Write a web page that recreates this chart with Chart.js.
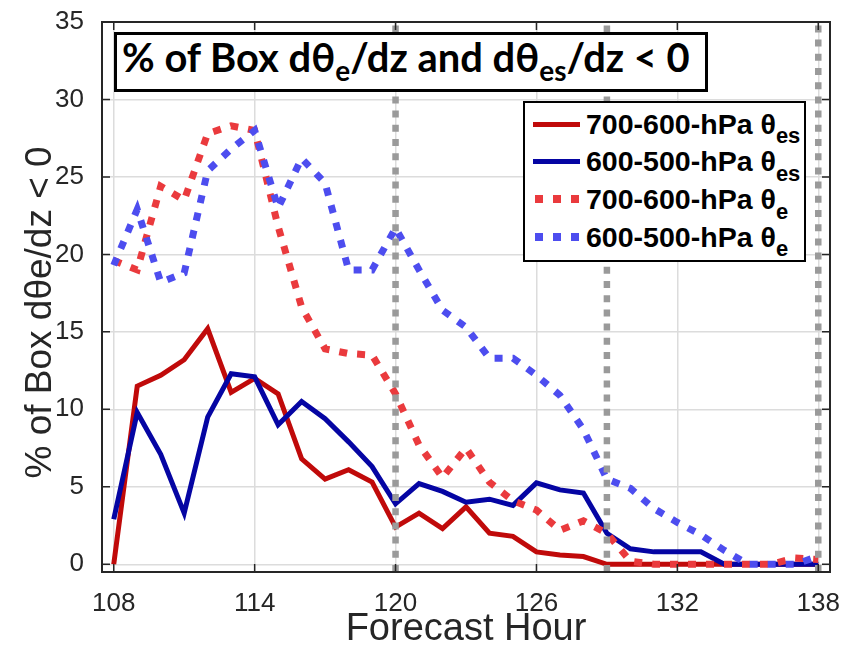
<!DOCTYPE html>
<html><head><meta charset="utf-8"><title>chart</title>
<script src="https://cdn.jsdelivr.net/npm/chart.js@4.4.1/dist/chart.umd.min.js"></script>
<style>
html,body{margin:0;padding:0;background:#fff;overflow:hidden}
#wrap{position:relative;width:846px;height:647px}
#c{position:absolute;left:0;top:0}
#title{position:absolute;left:114px;top:32px;width:594px;height:60px;box-sizing:border-box;border:3px solid #000;background:#fff}
#titleText{position:absolute;left:5px;top:0;white-space:nowrap;font-family:Lato,'Open Sans',sans-serif;font-weight:bold;font-size:40px;line-height:1;color:#000}
.sub{font-size:0.7em;position:relative;top:0.32em}
#legend{position:absolute;left:523px;top:101px;width:283px;height:161px;box-sizing:border-box;border:2px solid #000;background:#fff}
.lt{position:absolute;top:0;white-space:nowrap;font-family:'Liberation Sans',Arial,sans-serif;font-weight:bold;font-size:26px;line-height:1;color:#000}
.lsub{font-size:0.77em;position:relative;top:0.45em}
.bl{display:inline-block;width:0;height:0;vertical-align:baseline}
.ls{position:absolute}
</style></head><body>
<div id="wrap"><canvas id="c" width="846" height="647"></canvas>
<div id="title"><span id="titleText">% of Box dθ<span class="sub">e</span>/dz and dθ<span class="sub">es</span>/dz &lt; 0<span class="bl"></span></span></div>
<div id="legend"></div></div>
<script>
// ---- data ----
const hours = [108,109,110,111,112,113,114,115,116,117,118,119,120,121,122,123,124,125,126,127,128,129,130,131,132,133,134,135,136,137,138];
const r700es = [0,11.5,12.2,13.2,15.2,11.1,12.0,11.0,6.8,5.5,6.1,5.3,2.4,3.3,2.3,3.7,2.0,1.8,0.8,0.6,0.5,0,0,0,0,0,0,0,0,0,0];
const b600es = [2.9,9.8,7.1,3.3,9.5,12.3,12.1,9.0,10.5,9.4,7.9,6.3,3.9,5.2,4.7,4.0,4.2,3.8,5.25,4.8,4.6,2.0,1.0,0.8,0.8,0.8,0,0,0,0,0];
const r700e = [19.6,19.0,24.4,23.5,27.8,28.3,28.0,21.8,16.6,13.9,13.6,13.5,11.0,7.7,5.6,7.5,5.3,4.1,3.5,2.2,2.8,2.0,0.2,0,0,0,0,0,0,0.4,0.3];
const b600e = [19.3,22.9,18.2,18.8,25.4,26.8,28.0,23.0,26.2,24.6,19.0,19.0,21.7,19.0,16.4,15.3,13.3,13.3,12.2,10.9,8.7,5.5,4.9,3.6,2.7,1.9,0.9,0,0,0,0.5];
const refHours = [120,129,138];
const xTicks = [108,114,120,126,132,138];
const yTicks = [0,5,10,15,20,25,30,35];
const seriesLayer = ['700-600-hPa','600-500-hPa','700-600-hPa','600-500-hPa'];
const seriesSub = ['es','es','e','e'];
const seriesValues = [r700es, b600es, r700e, b600e];
const xTitle = 'Forecast Hour';
const yTitle = '% of Box dθe/dz < 0';
const yMin = -0.5, yMax = 35, xMin = 107.5, xMax = 138.5;

// ---- styles ----
const seriesColors = ['#c00a0a','#0505a3','#ea3a3d','#4d4def'];
const seriesDotted = [false,false,true,true];
const FONT = "'Liberation Sans', Arial, sans-serif";
const AX = '#262626';

const datasets = seriesValues.map((vals,i)=>({
  data: hours.map((h,j)=>({x:h, y:vals[j]})),
  borderColor: seriesColors[i],
  borderWidth: seriesDotted[i] ? 7 : 5,
  borderDash: seriesDotted[i] ? [8,10] : [],
  borderCapStyle: 'butt',
  borderJoinStyle: 'miter',
  pointRadius: 0, tension: 0, fill: false,
  order: 5 - i
}));
refHours.forEach(h=>datasets.push({
  data: [{x:h, y:yMin},{x:h, y:yMax}],
  borderColor: '#9a9a9a', borderWidth: 6.5, borderDash: [7,7.2], borderCapStyle:'butt',
  pointRadius: 0, fill: false, order: 0
}));

const framePlugin = {
  id: 'frame',
  afterDraw(chart){
    const {ctx, chartArea:a, scales} = chart;
    const x = scales.x, y = scales.y;
    ctx.save();
    ctx.strokeStyle = AX; ctx.lineWidth = 1.5;
    ctx.beginPath();
    xTicks.forEach(v=>{ const px = x.getPixelForValue(v);
      ctx.moveTo(px, a.bottom); ctx.lineTo(px, a.bottom-8);
      ctx.moveTo(px, a.top); ctx.lineTo(px, a.top+8); });
    yTicks.forEach(v=>{ const py = y.getPixelForValue(v);
      ctx.moveTo(a.left, py); ctx.lineTo(a.left+8, py);
      ctx.moveTo(a.right, py); ctx.lineTo(a.right-8, py); });
    ctx.stroke();
    ctx.lineWidth = 2;
    ctx.strokeRect(a.left, a.top, a.right-a.left, a.bottom-a.top);
    ctx.restore();
  }
};

new Chart(document.getElementById('c'), {
  type: 'line',
  data: { datasets },
  options: {
    responsive: false, animation: false, devicePixelRatio: 1,
    layout: { padding: { top: 22, right: 16, left: 0, bottom: 0 } },
    plugins: { legend: { display: false }, tooltip: { enabled: false } },
    scales: {
      x: {
        type: 'linear', min: xMin, max: xMax,
        afterBuildTicks: s => { s.ticks = xTicks.map(v=>({value:v})); },
        afterFit: s => { s.height = 75; s.paddingLeft = 0; s.paddingRight = 0; },
        grid: { color: '#dcdcdc', lineWidth: 1.5, drawTicks: false },
        border: { display: false },
        ticks: { font: { family: FONT, size: 26 }, color: AX, padding: 16, maxRotation: 0, autoSkip: false },
        title: { display: true, text: xTitle, color: AX, font: { family: FONT, size: 38, lineHeight: 0.9 }, padding: { top: 0, bottom: 0 } }
      },
      y: {
        type: 'linear', min: yMin, max: yMax,
        afterBuildTicks: s => { s.ticks = yTicks.map(v=>({value:v})); },
        afterFit: s => { s.width = 102; s.paddingTop = 0; s.paddingBottom = 0; },
        grid: { color: '#dcdcdc', lineWidth: 1.5, drawTicks: false },
        border: { display: false },
        ticks: { font: { family: FONT, size: 26 }, color: AX, padding: 18 },
        title: { display: true, text: yTitle + '   ', color: AX, font: { family: FONT, size: 37, lineHeight: 1 }, padding: { top: 22, bottom: 0 } }
      }
    }
  },
  plugins: [framePlugin]
});

// ---- overlays: title box and legend (real text) ----
function baselineOf(el){ return el.querySelector('.bl').getBoundingClientRect().top; }
function fitWidth(el, measureEl, target){
  const w = measureEl.getBoundingClientRect().width;
  const fs = parseFloat(getComputedStyle(el).fontSize);
  el.style.fontSize = (fs * target / w) + 'px';
}
function setBaseline(el, targetY){
  const cur = baselineOf(el);
  el.style.top = ((parseFloat(el.style.top)||0) + targetY - cur) + 'px';
}
const tt = document.getElementById('titleText');
fitWidth(tt, tt, 568);
setBaseline(tt, 72);

const legendEl = document.getElementById('legend');
const LX = 525, LY = 103; // inner origin of the legend box
let legendFont = null;
seriesLayer.forEach((layer,i)=>{
  const base = 133.5 + i*37.7;
  const s = document.createElement('div');
  s.className = 'ls';
  if (seriesDotted[i]) {
    s.style.cssText = `left:${535-LX}px;top:${base-9.5-4-LY}px;width:44px;height:8px;background:repeating-linear-gradient(90deg, ${seriesColors[i]} 0 8px, transparent 8px 18px)`;
  } else {
    s.style.cssText = `left:${533-LX}px;top:${base-9.5-2.5-LY}px;width:47px;height:5px;background:${seriesColors[i]}`;
  }
  legendEl.appendChild(s);
  const t = document.createElement('span');
  t.className = 'lt';
  t.style.left = (586-LX) + 'px';
  t.innerHTML = `<span class="m">${layer} θ</span><span class="lsub">${seriesSub[i]}</span><span class="bl"></span>`;
  legendEl.appendChild(t);
  if (legendFont === null) { fitWidth(t, t.querySelector('.m'), 190); legendFont = t.style.fontSize; }
  else t.style.fontSize = legendFont;
  setBaseline(t, base);
});
</script>
</body></html>
